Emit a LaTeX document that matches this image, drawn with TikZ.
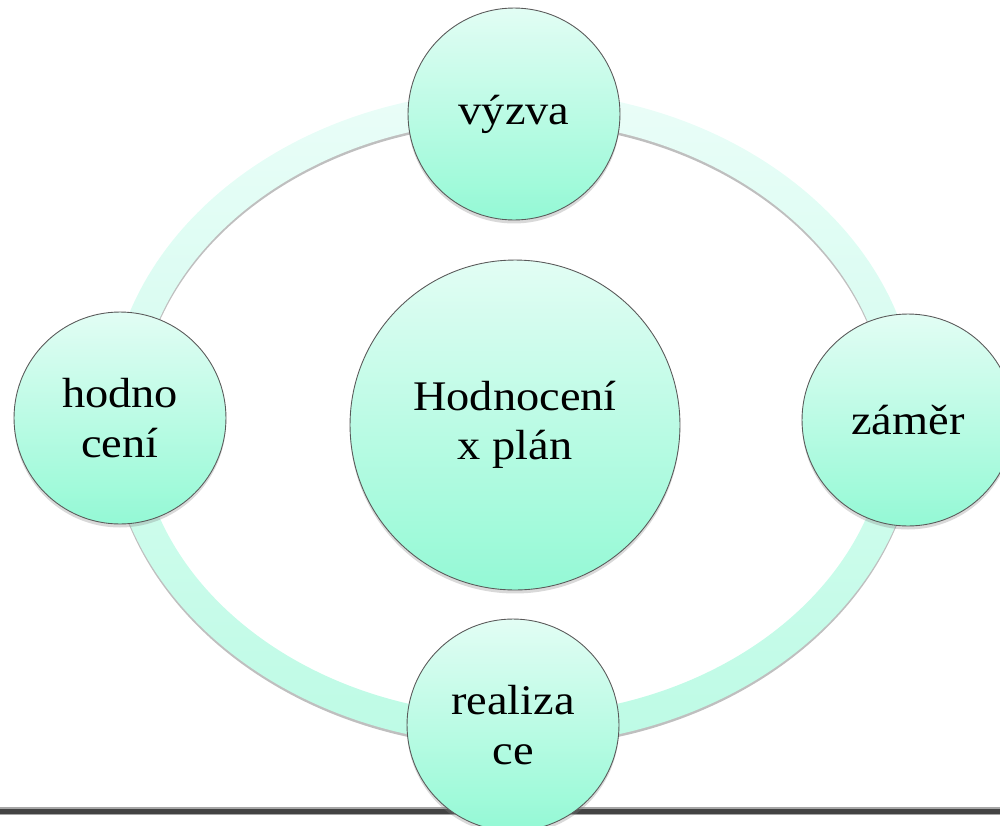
\documentclass[tikz,border=0pt]{standalone}
\usepackage{fontspec}
\setmainfont{Liberation Serif}[FakeStretch=1.1]
\usetikzlibrary{shadows}
\definecolor{kruhtop}{HTML}{E2FDF4}
\definecolor{kruhbot}{HTML}{94F9D5}
\definecolor{prstentop}{HTML}{EAFDF8}
\definecolor{prstenbot}{HTML}{BDFBE5}
\definecolor{linka}{HTML}{434343}

\begin{document}
\begin{tikzpicture}[x=0.02cm, y=-0.02cm,
kruh/.style={circle, minimum size=4.24cm, inner sep=0, align=center, top color=kruhtop, bottom color=kruhbot, draw=black!65, line width=.5pt, drop shadow={opacity=.3, shadow xshift=0pt, shadow yshift=-2pt}, font=\fontsize{24}{28}\selectfont},
stred/.style={kruh, minimum size=6.6cm},
prsten/.style={even odd rule, top color=prstentop, bottom color=prstenbot},
stin/.style={even odd rule, fill=black, opacity=.25}]
\useasboundingbox (0,0) rectangle (1000,825);
\clip (0,0) rectangle (1000,825);
\coordinate (O) at (513,418);
\coordinate (L1) at (0,811);
\coordinate (L2) at (1000,811);
% spodni linka
\draw[line width=0.16cm, black!35] (L1) -- (L2);
\draw[line width=0.1cm, linka] (L1) -- (L2);
% prsten
\path[stin] ([yshift=-1.5pt]O) ellipse [x radius=8.1cm, y radius=6.55cm] ([yshift=-1.5pt]O) ellipse [x radius=7.5cm, y radius=5.95cm];
\path[prsten] (O) ellipse [x radius=8.1cm, y radius=6.55cm] (O) ellipse [x radius=7.5cm, y radius=5.95cm];
% kruhy
\node[stred] (plan) at (515,425) {Hodnocení\\x plán};
\node[kruh] (vyzva) at (514,114) {výzva};
\node[kruh] (zamer) at (908,420) {záměr};
\node[kruh] (realizace) at (513,725) {realiza\\ce};
\node[kruh] (hodnoceni) at (120,418) {hodno\\cení};
\end{tikzpicture}
\end{document}
